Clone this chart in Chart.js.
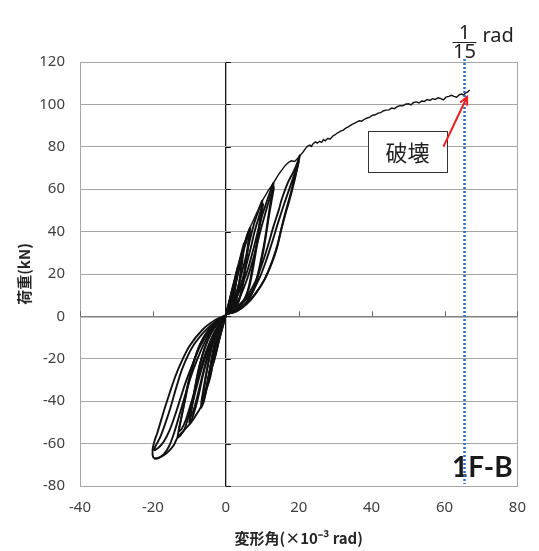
<!DOCTYPE html>
<html>
<head>
<meta charset="utf-8">
<script src="https://cdn.jsdelivr.net/npm/chart.js@4/dist/chart.umd.min.js"></script>
<style>
  html, body { margin: 0; padding: 0; background: #fff; }
  #wrap { width: 539px; height: 551px; position: relative; }
</style>
</head>
<body>
<div id="wrap"><canvas id="chartCanvas"></canvas></div>
<script>
// axis ranges (×10^-3 rad / kN)
const xTicks = [-40, -20, 0, 20, 40, 60, 80];
const yTicks = [-80, -60, -40, -20, 0, 20, 40, 60, 80, 100, 120];
const failureAngle = 65.4;   // 1/15 rad marker
const failurePoint = [66.2, 103.6];
const labelPoint = [59.7, 80];

// backbone: first loading to each amplitude, then push to failure
const backbonePos = [
  [0, 0.5], [1.5, 11], [3, 21], [4.5, 31], [6, 39.5], [8, 47], [10, 54.5], [11.5, 59],
  [13.1, 63], [14.4, 66.8], [16.2, 71], [17.3, 72.8], [18, 73.4], [18.9, 73.1], [19.8, 74.7],
  [20.6, 76.3], [21.3, 77.8], [22, 79.5], [22.5, 80.3], [23.1, 80.8], [23.5, 80.2], [24, 81.6],
  [24.6, 82.3], [25.1, 81.7], [25.7, 82.6], [26.3, 82.1], [26.8, 83.4], [27.3, 82.8], [28, 84],
  [28.6, 83.6], [29.3, 85], [30, 85.7], [30.7, 86.6], [31.5, 87.4], [32.2, 87.9], [32.9, 88.8],
  [33.7, 89.5], [34.4, 90.3], [35.2, 91], [35.9, 91.6], [36.6, 92.3], [37.3, 92.1], [38, 93],
  [38.8, 93.6], [39.5, 94], [40.3, 94.9], [41, 95.1], [41.8, 95.9], [42.5, 96.1], [43.3, 97],
  [44, 97.3], [44.8, 97.4], [45.5, 98.3], [46.3, 98], [47, 98.9], [47.8, 99.4], [48.6, 99.3],
  [49.3, 100.1], [50.1, 100.3], [50.8, 99.8], [51.5, 100.9], [52.3, 101.2], [53, 100.7],
  [53.8, 101.6], [54.5, 101.4], [55.2, 102.3], [56, 101.9], [56.7, 102.7], [57.4, 102.3],
  [58.2, 103.1], [58.9, 102.8], [59.7, 102.1], [60.4, 103.4], [61.2, 103.8], [61.9, 104.3],
  [62.6, 103.8], [63.3, 103.4], [64, 104.5], [64.7, 104.9], [65.2, 104.4], [65.8, 105.5],
  [66.4, 105.9], [66.9, 106.8]
];
const backboneNeg = [
  [0, 0.5], [-1, -5], [-1.9, -11], [-2.8, -17], [-3.7, -23.5], [-4.6, -29.8], [-5.5, -36],
  [-6.5, -41.5], [-7.8, -45.6], [-9.5, -50], [-11.4, -53.6], [-13.2, -57], [-14.2, -60.5],
  [-15.5, -63.3], [-17, -65.5], [-18.5, -66.8], [-19.7, -67.2]
];

// repeated cycles, positive side
const pos33a = [[0, 1], [1.2, 3], [2, 8], [2.6, 14], [3, 19], [3.3, 23.5], [2.5, 18], [1.6, 12], [0.8, 6], [0, 1]];
const pos33b = [[0, 1], [1.3, 3.5], [2.1, 9], [2.7, 15], [3.2, 22], [2.3, 16], [1.4, 10], [0.6, 5], [0, 1]];
const pos50a = [[0, 1], [1.5, 2.5], [2.7, 7], [3.5, 14], [4.1, 22], [4.6, 29], [5, 34.5], [4, 28], [3, 21], [2, 13], [1, 6], [0, 1]];
const pos50b = [[0, 1], [1.7, 3], [2.9, 8], [3.7, 15], [4.3, 23], [4.9, 32], [3.8, 25], [2.8, 18], [1.8, 11], [0.8, 5], [0, 1]];
const pos67a = [[0, 1], [2, 2.5], [3.5, 7], [4.5, 14], [5.2, 22], [5.8, 30], [6.3, 37], [6.7, 42], [5.6, 37], [4.5, 30], [3.5, 22], [2.5, 14], [1.3, 6], [0, 1]];
const pos67b = [[0, 1], [2.2, 3], [3.7, 8], [4.7, 15], [5.4, 23], [6, 31], [6.6, 40], [5.4, 34], [4.3, 27], [3.2, 19], [2.1, 11], [1, 5], [0, 1]];
const pos100a = [[0, 1], [2.5, 2.5], [4.5, 6], [6, 12], [7, 20], [7.8, 28], [8.6, 36], [9.3, 45], [10, 54.5], [9, 50], [7.8, 44], [6.6, 36], [5.5, 28], [4.3, 20], [3, 12], [1.5, 5], [0, 1]];
const pos100b = [[0, 1], [2.8, 3], [4.8, 7], [6.3, 13], [7.3, 21], [8.2, 30], [9, 39], [9.8, 48], [10.2, 53], [9.1, 47], [7.9, 40], [6.8, 32], [5.6, 24], [4.3, 16], [2.8, 9], [1.3, 4], [0, 1]];
const pos133a = [[0, 1], [3, 2.5], [5.5, 6], [7.5, 12], [8.8, 20], [9.8, 28], [10.6, 35], [11.4, 44], [12.1, 52], [12.7, 58], [13.1, 63], [12.2, 59], [11, 53], [9.7, 46], [8.5, 38], [7.3, 30], [6, 22], [4.5, 15], [3, 9], [1.5, 4], [0, 1]];
const pos133b = [[0, 1], [3.3, 3], [5.8, 7], [7.8, 13], [9.1, 21], [10.1, 29], [11, 38], [11.8, 47], [12.6, 55], [13.2, 61], [12.1, 56], [10.9, 49], [9.6, 41], [8.3, 32], [7, 24], [5.5, 16], [3.8, 9], [2, 4], [0, 1]];
const pos200a = [[0, 1], [3, 2.5], [5.5, 5.5], [8, 10.5], [10.5, 17], [12.6, 25], [14, 32], [15.1, 40], [16.3, 48], [17.5, 55], [18.7, 63], [19.6, 70], [20.3, 76], [19.5, 72], [18.5, 68], [17, 63], [15.3, 55], [14.5, 50], [13, 42], [11.5, 33], [10, 25], [8, 16], [6, 10], [4, 6], [2, 3], [0, 1]];
const pos200b = [[0, 1], [3.2, 2.8], [5.8, 6], [8.3, 11], [10.8, 18], [12.8, 26.5], [14.2, 34], [15.3, 42], [16.5, 50], [17.8, 58], [19, 66], [20, 73], [19, 68], [17.6, 61], [16, 53], [14.3, 44], [12.7, 35], [11, 26], [9.2, 18], [7, 11], [4.5, 6], [2, 2.5], [0, 1]];

// repeated cycles, negative side
const neg33a = [[0, 0.5], [-1, -3], [-2, -9], [-2.8, -16], [-3.4, -22], [-2.6, -17], [-1.8, -11], [-0.9, -5], [0, 0.5]];
const neg33b = [[0, 0.5], [-1.1, -3.5], [-2.1, -10], [-2.9, -17], [-3.3, -21], [-2.4, -15], [-1.5, -9], [-0.7, -4], [0, 0.5]];
const neg50a = [[0, 0.5], [-1.2, -3], [-2.5, -9], [-3.5, -17], [-4.4, -26], [-5.1, -33], [-4.3, -29], [-3.4, -21], [-2.4, -13], [-1.3, -6], [0, 0.5]];
const neg50b = [[0, 0.5], [-1.4, -3.5], [-2.7, -10], [-3.7, -18], [-4.5, -26], [-5, -31], [-4.1, -26], [-3.1, -18], [-2.1, -11], [-1, -5], [0, 0.5]];
const neg67a = [[0, 0.5], [-1.5, -3], [-3, -9], [-4.3, -18], [-5.3, -27], [-6.1, -36], [-6.8, -43], [-6, -40], [-5.2, -33], [-4.3, -25], [-3.3, -17], [-2.2, -9], [-1, -3], [0, 0.5]];
const neg67b = [[0, 0.5], [-1.7, -3.5], [-3.2, -10], [-4.5, -19], [-5.5, -28], [-6.2, -35], [-6.7, -41], [-5.8, -37], [-4.9, -30], [-4, -22], [-3, -14], [-1.9, -7], [-0.8, -2.5], [0, 0.5]];
const neg100a = [[0, 0.5], [-1.8, -2.5], [-3.8, -7], [-5.6, -14], [-7, -22], [-8, -30], [-8.8, -38], [-9.5, -45], [-10, -50], [-9.2, -48], [-8.3, -43], [-7.3, -36], [-6.3, -28], [-5.1, -20], [-3.8, -13], [-2.2, -6], [-0.8, -2], [0, 0.5]];
const neg100b = [[0, 0.5], [-2, -3], [-4, -8], [-5.8, -15], [-7.2, -23], [-8.2, -31], [-9, -39], [-9.6, -45], [-9.9, -48], [-9, -45], [-8, -39], [-7, -32], [-6, -25], [-4.8, -17], [-3.5, -10], [-2, -5], [-0.7, -1.5], [0, 0.5]];
const neg133a = [[0, 0.5], [-2, -2], [-4.5, -6], [-7, -13], [-8.8, -22], [-10, -30], [-11, -38], [-12, -46], [-12.8, -53], [-13.2, -57], [-12.4, -56], [-11.3, -53], [-10.2, -47], [-9, -40], [-7.8, -32], [-6.5, -24], [-5, -16], [-3.3, -9], [-1.5, -3.5], [0, 0.5]];
const neg133b = [[0, 0.5], [-2.2, -2.3], [-4.8, -6.5], [-7.3, -14], [-9.1, -23], [-10.3, -31], [-11.3, -40], [-12.2, -48], [-12.9, -54], [-12.1, -53], [-11, -49], [-9.9, -43], [-8.7, -36], [-7.5, -28], [-6.1, -20], [-4.6, -13], [-3, -7], [-1.3, -2.5], [0, 0.5]];
const neg200a = [[0, 0.5], [-2.8, -1.6], [-6.4, -6.3], [-10, -14.1], [-12.7, -23.5], [-14.2, -30], [-15.4, -36.1], [-16.7, -43], [-17.7, -48.7], [-18.8, -55], [-19.6, -59], [-20.1, -63], [-19.9, -66.5], [-19, -67], [-18.3, -66.6], [-17, -65], [-15.5, -61], [-14.2, -55], [-12.8, -47], [-11.3, -38], [-9.7, -29], [-8, -21], [-6, -13], [-4, -6.5], [-2, -2.5], [0, 0.5]];
const neg200b = [[0, 0.5], [-2.5, -2], [-5.5, -6.5], [-9, -14], [-11.8, -24], [-13.5, -33], [-15, -42], [-16.5, -50], [-18, -57], [-19.7, -63], [-18.5, -62], [-17, -59], [-15.5, -54], [-14, -47], [-12.5, -39], [-11, -31], [-9, -22], [-7, -14], [-4.5, -7], [-2, -2.5], [0, 0.5]];

const loops = [
  pos33a, pos33b, pos50a, pos50b, pos67a, pos67b, pos100a, pos100b, pos133a, pos133b, pos200a, pos200b,
  neg33a, neg33b, neg50a, neg50b, neg67a, neg67b, neg100a, neg100b, neg133a, neg133b, neg200a, neg200b
];

function toPoints(arr) {
  return arr.map(p => ({ x: p[0], y: p[1] }));
}

const datasets = loops.map(l => ({
  data: toPoints(l),
  borderColor: "#111",
  borderWidth: 1.9,
  pointRadius: 0,
  showLine: true,
  tension: 0.35
}));
datasets.push({ data: toPoints(backboneNeg), borderColor: "#111", borderWidth: 1.9, pointRadius: 0, showLine: true, tension: 0.3 });
datasets.push({ data: toPoints(backbonePos), borderColor: "#111", borderWidth: 1.4, pointRadius: 0, showLine: true, tension: 0 });

const gridGray = "#a6a6a6";

// zero-axis ticks, marker line, arrow and notes
const overlay = {
  id: "overlay",
  beforeDatasetsDraw(chart) {
    const { ctx, scales: { x, y } } = chart;
    const x0 = x.getPixelForValue(0);
    const y0 = y.getPixelForValue(0);
    ctx.save();
    ctx.lineWidth = 1;
    ctx.strokeStyle = "#111";
    yTicks.forEach(v => {
      const py = Math.round(y.getPixelForValue(v)) + 0.5;
      ctx.beginPath(); ctx.moveTo(x0, py); ctx.lineTo(x0 + 5, py); ctx.stroke();
    });
    ctx.strokeStyle = "#666";
    xTicks.forEach(v => {
      const px = Math.round(x.getPixelForValue(v)) + 0.5;
      ctx.beginPath(); ctx.moveTo(px, y0); ctx.lineTo(px, y0 - 5); ctx.stroke();
    });
    ctx.restore();
  },
  afterDatasetsDraw(chart) {
    const { ctx, scales: { x, y } } = chart;
    ctx.save();

    // 1F-B
    ctx.fillStyle = "#1a1a1a";
    ctx.font = "bold 28px Lato, 'Liberation Sans', sans-serif";
    ctx.textAlign = "left";
    ctx.textBaseline = "alphabetic";
    ctx.fillText("1F-B", 452, 477);

    // dotted 1/15 rad line
    const mx = Math.round(x.getPixelForValue(failureAngle)) + 0.5;
    ctx.strokeStyle = "#2e6bc6";
    ctx.lineWidth = 2.5;
    ctx.setLineDash([2, 2]);
    ctx.beginPath();
    ctx.moveTo(mx, 59);
    ctx.lineTo(mx, 484);
    ctx.stroke();
    ctx.setLineDash([]);

    // fraction label
    ctx.fillStyle = "#222";
    ctx.font = "20px 'Noto Sans', sans-serif";
    ctx.textAlign = "center";
    ctx.fillText("1", mx, 39);
    ctx.fillText("15", mx, 58);
    ctx.strokeStyle = "#222";
    ctx.lineWidth = 1;
    ctx.beginPath();
    ctx.moveTo(mx - 12, 42.5);
    ctx.lineTo(mx + 12, 42.5);
    ctx.stroke();
    ctx.textAlign = "left";
    ctx.fillText("rad", mx + 18, 42);

    // failure note box
    const bx = 368, by = 131, bw = 79, bh = 41;
    ctx.fillStyle = "#fff";
    ctx.fillRect(bx, by, bw, bh);
    ctx.strokeStyle = "#333";
    ctx.lineWidth = 1;
    ctx.strokeRect(bx + 0.5, by + 0.5, bw, bh);
    ctx.fillStyle = "#222";
    ctx.font = "22px 'Noto Sans CJK JP', sans-serif";
    ctx.textAlign = "center";
    ctx.textBaseline = "middle";
    ctx.fillText("破壊", bx + bw / 2, by + bh / 2 + 1);

    // red arrow
    const sx = x.getPixelForValue(labelPoint[0]), sy = y.getPixelForValue(labelPoint[1]);
    const tx = x.getPixelForValue(failurePoint[0]), ty = y.getPixelForValue(failurePoint[1]);
    const ang = Math.atan2(ty - sy, tx - sx);
    ctx.strokeStyle = "#f02020";
    ctx.lineWidth = 2;
    ctx.beginPath();
    ctx.moveTo(sx, sy);
    ctx.lineTo(tx, ty);
    ctx.moveTo(tx - 9 * Math.cos(ang - 0.45), ty - 9 * Math.sin(ang - 0.45));
    ctx.lineTo(tx, ty);
    ctx.lineTo(tx - 9 * Math.cos(ang + 0.45), ty - 9 * Math.sin(ang + 0.45));
    ctx.stroke();

    ctx.restore();
  }
};

const ctx = document.getElementById("chartCanvas").getContext("2d");
new Chart(ctx, {
  type: "scatter",
  data: { datasets: datasets },
  options: {
    responsive: true,
    maintainAspectRatio: false,
    animation: false,
    events: [],
    layout: { padding: { top: 62, right: 17, left: 0, bottom: 0 } },
    plugins: { legend: { display: false }, tooltip: { enabled: false } },
    scales: {
      x: {
        type: "linear",
        min: xTicks[0],
        max: xTicks[xTicks.length - 1],
        afterFit: s => { s.height = 65; },
        afterBuildTicks: s => { s.ticks = xTicks.map(v => ({ value: v })); },
        ticks: { padding: 13, color: "#404040", font: { family: "'Noto Sans', sans-serif", size: 15 } },
        grid: {
          drawTicks: false,
          color: c => c.tick && c.tick.value === 0 ? "#111" : (c.tick && c.tick.value === 80 ? gridGray : "rgba(0,0,0,0)"),
          lineWidth: c => c.tick && c.tick.value === 0 ? 1.3 : 1
        },
        border: { color: gridGray },
        title: {
          display: true,
          text: "変形角(×10⁻³ rad)",
          color: "#262626",
          font: { family: "'Noto Sans CJK JP', sans-serif", size: 15, weight: "bold" },
          padding: { top: 0, bottom: 4 }
        }
      },
      y: {
        type: "linear",
        min: yTicks[0],
        max: yTicks[yTicks.length - 1],
        afterFit: s => { s.width = 80; },
        afterBuildTicks: s => { s.ticks = yTicks.map(v => ({ value: v })); },
        ticks: { padding: 15, color: "#404040", font: { family: "'Noto Sans', sans-serif", size: 15 } },
        grid: {
          drawTicks: false,
          color: c => c.tick && c.tick.value === 0 ? "#808080" : gridGray,
          lineWidth: c => c.tick && c.tick.value === 0 ? 1.5 : 1
        },
        border: { color: gridGray },
        title: {
          display: true,
          text: "荷重(kN)",
          color: "#262626",
          font: { family: "'Noto Sans CJK JP', sans-serif", size: 15, weight: "bold" },
          padding: { top: 15, bottom: 0 }
        }
      }
    }
  },
  plugins: [overlay]
});
</script>
</body>
</html>
